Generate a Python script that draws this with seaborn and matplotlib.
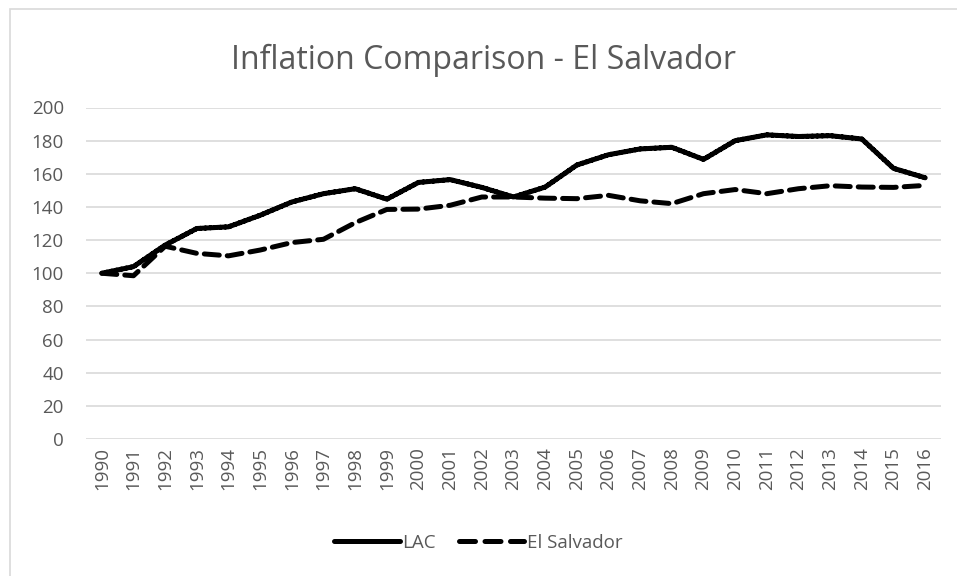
import matplotlib
matplotlib.use("Agg")
import matplotlib.pyplot as plt
import seaborn as sns
import pandas as pd
from matplotlib.patches import Rectangle
from matplotlib.lines import Line2D

years = [str(y) for y in range(1990, 2017)]
lac = [100, 104, 117, 127, 128, 135, 143, 148, 151, 144.7, 154.8, 156.5, 151.8, 146,
       152, 165.3, 171.5, 175, 176, 168.7, 180, 183.5, 182.5, 183, 181, 163.3, 157.6]
el_salvador = [100, 98.5, 116.3, 112, 110.5, 114, 118.5, 120.5, 130.5, 138.5, 138.7, 141,
               146, 146, 145.3, 145, 147, 143.7, 142, 148, 150.5, 148, 151, 152.8, 152,
               151.8, 153]
series_names = ["LAC", "El Salvador"]
title = "Inflation Comparison - El Salvador"

df = pd.DataFrame({"Year": years * 2,
                   "Value": lac + el_salvador,
                   "Series": [series_names[0]] * len(years) + [series_names[1]] * len(years)})

sns.set_theme(style="white")
plt.rcParams["font.family"] = ["Open Sans", "DejaVu Sans"]

fig = plt.figure(figsize=(9.57, 5.76), dpi=100)
fig.patch.set_facecolor("white")
ax = fig.add_axes([86 / 957, 1 - 439 / 576, (941 - 86) / 957, (439 - 107.5) / 576])

sns.lineplot(data=df, x="Year", y="Value", hue="Series", style="Series",
             palette=["black", "black"], dashes=[(1, 0), (3, 1.6)],
             linewidth=3.6, ax=ax, legend=False, sort=False)
for ln in ax.lines:
    ln.set_solid_capstyle("round")
    ln.set_dash_capstyle("round")

ax.set_xlim(-0.5, len(years) - 0.5)
ax.set_ylim(0, 200)
ax.set_yticks(range(0, 201, 20))
ax.set_xticks(range(len(years)))
ax.set_xticklabels(years, rotation=90)
ax.grid(axis="y", color="#d9d9d9", linewidth=1.2)
ax.set_axisbelow(True)
for s in ax.spines.values():
    s.set_visible(False)
ax.tick_params(axis="both", length=0, labelsize=13.5, colors="#595959")
ax.tick_params(axis="y", pad=16)
ax.tick_params(axis="x", pad=6)
ax.set_xlabel("")
ax.set_ylabel("")

fig.text(0.5 + 5 / 957, 1 - 60 / 576, title, ha="center", va="center", fontsize=23, color="#595959")

handles = [Line2D([], [], color="black", lw=3.6, solid_capstyle="round"),
           Line2D([], [], color="black", lw=3.6, ls=(0, (3.2, 1.9)), dash_capstyle="round")]
fig.legend(handles, series_names, loc="center", bbox_to_anchor=(0.5, 1 - 543 / 576),
           ncol=2, frameon=False, fontsize=13.5, handlelength=3.5, handletextpad=0.15,
           columnspacing=1.2, labelcolor="#595959")

fig.patches.append(Rectangle((10 / 957, -0.1), 1.5, 1 - 9 / 576 + 0.1, transform=fig.transFigure,
                             fill=False, edgecolor="#d9d9d9", linewidth=1.2, zorder=0))

fig.savefig("out.png", dpi=100)
